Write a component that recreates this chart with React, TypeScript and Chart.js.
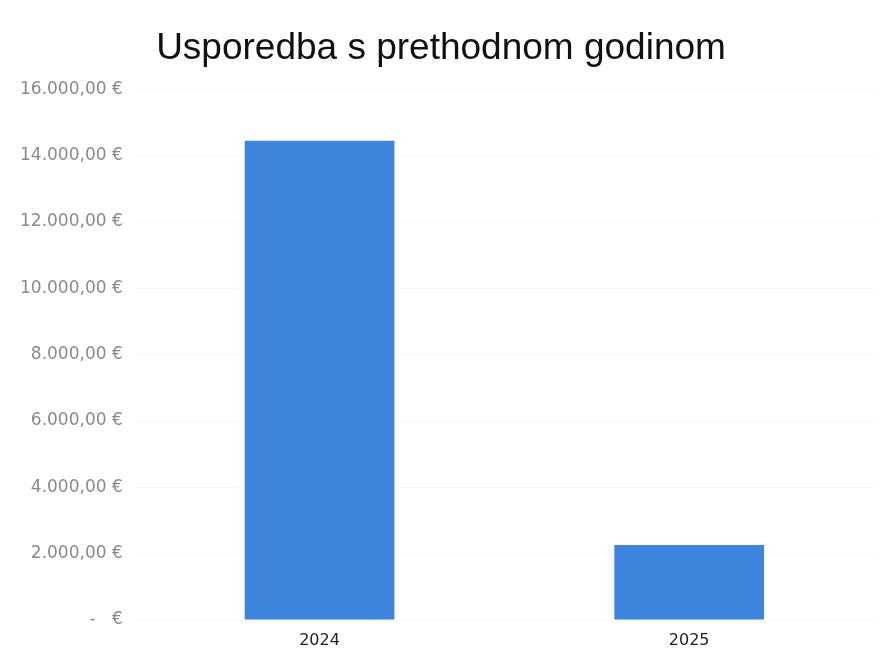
import React, { useEffect, useRef } from "react";
import { Chart, registerables } from "chart.js";

Chart.register(...registerables);

const categories = ["2024", "2025"];
const values = [14450, 2260];
const yMin = 0;
const yMax = 16000;
const yStep = 2000;
const titleText = "Usporedba s prethodnom godinom";

function formatEuro(v: number): string {
  if (v === 0) return "-   €";
  const fixed = v.toFixed(2);
  const [intPart, dec] = fixed.split(".");
  const withDots = intPart.replace(/\B(?=(\d{3})+(?!\d))/g, ".");
  return `${withDots},${dec} €`;
}

export default function App() {
  const ref = useRef<HTMLCanvasElement | null>(null);

  useEffect(() => {
    if (!ref.current) return;
    const chart = new Chart(ref.current, {
      type: "bar",
      data: {
        labels: categories,
        datasets: [
          {
            data: values,
            backgroundColor: "#3d85dc",
            borderWidth: 0,
            barPercentage: 0.405,
            categoryPercentage: 1,
          },
        ],
      },
      options: {
        animation: false,
        responsive: false,
        maintainAspectRatio: false,
        layout: { padding: { left: 8, right: 17, top: 0, bottom: 0 } },
        plugins: {
          legend: { display: false },
          tooltip: { enabled: false },
          title: {
            display: true,
            text: titleText,
            color: "#111",
            font: { family: "'Liberation Sans', Arial, sans-serif", size: 37, weight: "normal" },
            padding: { top: 27, bottom: 18 },
          },
        },
        scales: {
          x: {
            grid: { display: false, drawTicks: false },
            border: { display: false },
            afterFit: (scale: any) => {
              scale.height = 34;
            },
            ticks: {
              color: "#222",
              font: { family: "'DejaVu Sans', sans-serif", size: 16 },
              padding: 11,
            },
          },
          y: {
            min: yMin,
            max: yMax,
            grid: { color: "rgba(0,0,0,0.035)", drawTicks: false },
            border: { display: false },
            ticks: {
              stepSize: yStep,
              color: "#8a8a8a",
              font: { family: "'DejaVu Sans', sans-serif", size: 17 },
              padding: 12,
              callback: (v: any) => formatEuro(Number(v)),
            },
          },
        },
      },
    });
    return () => chart.destroy();
  }, []);

  return (
    <div style={{ position: "fixed", left: 0, top: 0, width: 891, height: 654, background: "#fff" }}>
      <canvas ref={ref} width={891} height={654} style={{ display: "block" }} />
    </div>
  );
}
